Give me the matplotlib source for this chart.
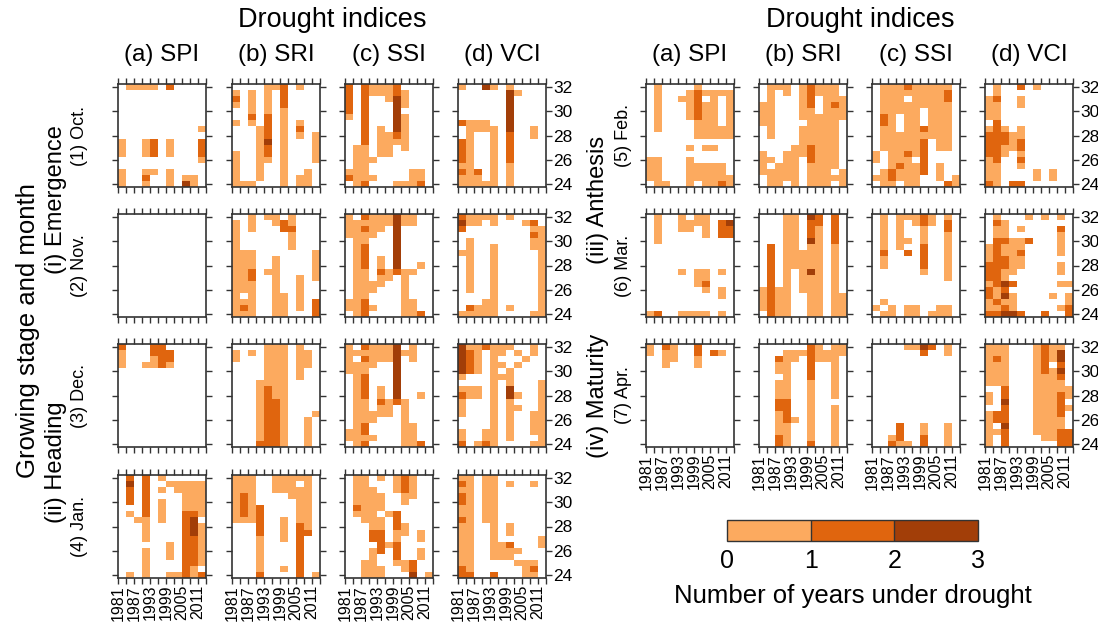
import numpy as np
import matplotlib as mpl
import matplotlib.pyplot as plt
from matplotlib.colors import ListedColormap, BoundaryNorm

plt.rcParams['font.family'] = ['Liberation Sans', 'DejaVu Sans']

# 3-year bins on x, 0.5 degree bins on y
year_edges = np.arange(1981, 2015, 3)
lat_edges = np.arange(23.75, 32.5, 0.5)
year_labels = [1981, 1987, 1993, 1999, 2005, 2011]
lat_ticks = [24, 26, 28, 30, 32]
index_names = ['(a) SPI', '(b) SRI', '(c) SSI', '(d) VCI']
cbar_ticks = [0, 1, 2, 3]

# grids: rows from 32N (top) to 24N (bottom), 0 = no drought
empty = ["00000000000"] * 17

spi_oct = ["01111020000", "00000000000", "00000000000", "00000000000", "00000000000",
           "00000000000", "00000000000", "00000000001", "00000000000", "10012010002",
           "10012010002", "10012010002", "00000000001", "00000000000", "10011010000",
           "10020010110", "10010010310"]
sri_oct = ["00001120100", "10101020000", "20101020000", "10101020000", "00101010000",
           "00202010000", "10102010100", "00012010200", "00012010101", "00013010001",
           "00012010001", "10012010001", "10011010001", "10010010000", "10010010010",
           "10010010110", "11100010110"]
ssi_oct = ["20211120000", "20211121000", "20200131000", "20200031000", "20200030000",
           "10200031000", "00200031000", "00201031000", "00201121000", "00201111000",
           "01101101000", "01101100000", "01110000000", "01100000000", "11100000110",
           "21110000110", "01200011120"]
vci_oct = ["10031010000", "00000031000", "00000030000", "00000030000", "00000030000",
           "00000030000", "21110030000", "01111030010", "01001020010", "21001020000",
           "21001020000", "21001020000", "21001020000", "11001010000", "21201010000",
           "11101010000", "11111010000"]

spi_nov = empty
sri_nov = ["00101101000", "10100121000", "10100022000", "10000001000", "10000001000",
           "10000001000", "11100000001", "11100100001", "11100100001", "11201100001",
           "11200100101", "11100100100", "11100100100", "10100110100", "11100110102",
           "12100110102", "11100110002"]
ssi_nov = ["10211131100", "11111131100", "11211030000", "11110030000", "01100030000",
           "01200030000", "01200030000", "01201030000", "01201030010", "01102121100",
           "01101101000", "01111001000", "01110001000", "01100001000", "11200001100",
           "11210001100", "01200001120"]
vci_nov = ["21111010000", "31101000120", "20000000011", "00000000021", "01000000011",
           "01001000011", "11001000001", "01001000001", "01001000001", "01001000001",
           "01001000001", "01001000001", "01001000001", "00001000001", "00011000001",
           "02111010001", "11111000011"]

spi_dec = ["20002200000", "10002220000", "10001220000", "10011210000"] + ["00000000000"] * 13
sri_dec = ["00001110100", "10101110110", "10001110110", "00001110110", "00001110100",
           "00001110100", "00011110000", "00012110000", "00012110000", "00012210000",
           "00012210000", "00012210001", "00012210010", "00012210010", "00012210010",
           "00012210010", "00022210010"]
ssi_dec = ["10211130100", "11111131100", "10211130100", "11110030000", "11100030000",
           "01200030000", "01200030000", "01201030000", "01201030010", "01102121000",
           "01101101000", "01111101000", "01110001000", "01200001100", "11200001100",
           "11110001100", "01200001120"]
vci_dec = ["31121110010", "32101101010", "32101000100", "32101101000", "32101010000",
           "10001110000", "00001010001", "11101030001", "21101031001", "10001010001",
           "10001011001", "10001010011", "00001010011", "00001010011", "10011010011",
           "10011010001", "20121000011"]

spi_jan = ["02020100000", "03020011111", "02020101111", "02020000111", "02020100111",
           "00020100111", "01020100221", "00110100230", "00010000231", "00010000231",
           "00010000221", "00000010221", "00010010221", "00010010221", "00010000221",
           "00010000210", "01010011212"]
sri_jan = ["11100111110", "11100111010", "11100111110", "12100001110", "12100000110",
           "12120000110", "12120000110", "11120010110", "00020010210", "00020010220",
           "00010010200", "00010000200", "00010000200", "00010000200", "00010000200",
           "00010010200", "00020000201"]
ssi_jan = ["01101012100", "01100012100", "01110012100", "01111001100", "01111001000",
           "02111000000", "01110120000", "00111020000", "00011021000", "00022011010",
           "00022010010", "00002120000", "00012020010", "00010020010", "00110011200",
           "00111001200", "00111000301"]
vci_jan = ["11011000000", "21011010010", "11011000000", "21011000000", "21011000000",
           "11011000000", "11011000000", "21011000000", "11001010000", "11001010000",
           "11001000001", "11001120001", "11001111000", "11001110000", "11000001110",
           "21000000120", "22002000110"]

spi_feb = ["01000010000", "01000121111", "01001120101", "01000121101", "01000121101",
           "01000121101", "01000011101", "01000011111", "00000011111", "00000000000",
           "00000101100", "00000000000", "11000100000", "11000111110", "11000111110",
           "11000111111", "01100101121"]
sri_feb = ["01110121110", "01010121110", "01000120111", "11000120121", "11000110111",
           "11000111111", "11000011110", "01000111110", "01000111110", "00000111110",
           "00001121110", "10011121110", "11011021110", "10111011110", "11111011101",
           "01111011111", "01101011101"]
ssi_feb = ["01112111110", "01111111120", "01110111120", "01111111110", "01111101110",
           "02101101110", "02101101110", "01101121110", "01111111110", "01111120110",
           "01111120110", "10112120000", "10111020000", "00121120100", "01211120100",
           "11211100101", "01101100021"]
vci_feb = ["01002010000", "01000000000", "12001000000", "11001000000", "11000000000",
           "11000000000", "02000000000", "12101000000", "22211000000", "22212000000",
           "22112000000", "22101000000", "12002000000", "11001000000", "11000010100",
           "11000010100", "21022000000"]

spi_mar = ["01001011000", "01001111023", "01001101022", "01000001022", "01000000000",
           "00000000000", "00000000000", "00000000000", "00000000000", "00001011010",
           "00000011000", "00000012000", "00000001010", "00000000010", "00000000000",
           "00000000000", "12001111010"]
sri_mar = ["00011032020", "00011022020", "00011021020", "00011021020", "00011031020",
           "02011011010", "02011111010", "02011111010", "02011111010", "02010131010",
           "02010111010", "02010111010", "12110111010", "12110011011", "12110011011",
           "12110011011", "02110011011"]
ssi_mar = ["01011121010", "01010121020", "01010010020", "01010010010", "01011010010",
           "01010020010", "02002020010", "01000020010", "01000020010", "00000010010",
           "00000000010", "00000000000", "00000000000", "00000000000", "01000000000",
           "10101100110", "01101101110"]
vci_mar = ["01000101010", "02100000000", "01101000020", "01100000010", "02211200010",
           "12111000010", "12112000010", "12211000000", "22211000010", "22110000010",
           "22100000000", "12320000011", "21200000000", "21310000101", "12110000001",
           "11210000012", "22332002002"]

spi_apr = ["10210020000", "10110020210", "00110010000", "00100010000"] + ["00000000000"] * 13
sri_apr = ["00000021011", "00011121111", "00211021110", "00110020010", "00110020010",
           "00010020010", "00110010010", "00110010010", "00110010010", "00220010000",
           "00220010010", "00120010010", "00121010010", "00110010010", "00110010010",
           "00210010010", "00210020010"]
ssi_apr = ["00001132010", "00000020010"] + ["00000000000"] * 11 + \
          ["00020010010", "00020010010", "00120020010", "00211020010"]
vci_apr = ["11100012110", "11100012130", "12100012130", "11100012020", "11100012130",
           "11100011120", "11100011110", "00200011111", "10200011121", "10300011120",
           "00200011121", "12200011120", "12200011110", "10300011110", "11200011122",
           "10200001122", "10200000022"]

left_rows = [[spi_oct, sri_oct, ssi_oct, vci_oct],
             [spi_nov, sri_nov, ssi_nov, vci_nov],
             [spi_dec, sri_dec, ssi_dec, vci_dec],
             [spi_jan, sri_jan, ssi_jan, vci_jan]]
right_rows = [[spi_feb, sri_feb, ssi_feb, vci_feb],
              [spi_mar, sri_mar, ssi_mar, vci_mar],
              [spi_apr, sri_apr, ssi_apr, vci_apr]]

light, medium, dark = '#FCAA5F', '#E0650E', '#A23E08'
cmap = ListedColormap(['white', light, medium, dark])
norm = BoundaryNorm([-0.5, 0.5, 1.5, 2.5, 3.5], 4)

W, H = 1098, 629
fig = plt.figure(figsize=(W / 100, H / 100), dpi=100)


def px_axes(x, y, w, h):
    return fig.add_axes([x / W, 1 - (y + h) / H, w / W, h / H])


def draw_panel(ax, rows, show_years, show_lats):
    grid = np.flipud(np.array([[int(c) for c in r] for r in rows]))
    ax.pcolormesh(year_edges, lat_edges, grid, cmap=cmap, norm=norm)
    ax.set_xlim(1981, 2014)
    ax.set_ylim(23.75, 32.25)
    ax.set_xticks(year_edges)
    ax.set_xticklabels([str(y) if y in year_labels else '' for y in year_edges],
                       rotation=90)
    ax.set_yticks(lat_ticks)
    ax.tick_params(direction='out', length=4, width=1, color='#333333',
                   top=True, right=True, labelleft=False,
                   labelbottom=show_years, labelright=show_lats, pad=1)
    ax.tick_params(axis='x', labelsize=11.5)
    ax.tick_params(axis='y', labelsize=12.5)
    for s in ax.spines.values():
        s.set_color('#333333')
        s.set_linewidth(1.2)


left_x = [118, 232, 345, 458]
right_x = [646, 759, 872, 985]
row_y = [84, 214, 344, 475]
pw, ph = 88, 103

for i, panels in enumerate(left_rows):
    for j, rows in enumerate(panels):
        ax = px_axes(left_x[j], row_y[i], pw, ph)
        draw_panel(ax, rows, i == 3, j == 3)

for i, panels in enumerate(right_rows):
    for j, rows in enumerate(panels):
        ax = px_axes(right_x[j], row_y[i], pw, ph)
        draw_panel(ax, rows, i == 2, j == 3)


def ftext(x, y, s, **kw):
    fig.text(x / W, 1 - y / H, s, ha='center', va='center', **kw)


# column headers
ftext(332, 20, 'Drought indices', fontsize=19.5)
ftext(860, 20, 'Drought indices', fontsize=19.5)
for j, name in enumerate(index_names):
    ftext(left_x[j] + pw / 2, 55, name, fontsize=17.5)
    ftext(right_x[j] + pw / 2, 55, name, fontsize=17.5)

# row labels
ftext(28, 331, 'Growing stage and month', fontsize=18.5, rotation=90)
ftext(56, 200, '(i) Emergence', fontsize=17, rotation=90)
ftext(56, 462, '(ii) Heading', fontsize=17, rotation=90)
ftext(598, 200, '(iii) Anthesis', fontsize=17, rotation=90)
ftext(598, 396, '(iv) Maturity', fontsize=17, rotation=90)
for lab, y in zip(['(1) Oct.', '(2) Nov.', '(3) Dec.', '(4) Jan.'], row_y):
    ftext(79, y + ph / 2, lab, fontsize=13, rotation=90)
for lab, y in zip(['(5) Feb.', '(6) Mar.', '(7) Apr.'], row_y):
    ftext(623, y + ph / 2, lab, fontsize=13, rotation=90)

# colour bar
cax = px_axes(727, 520, 251, 21)
sm = mpl.cm.ScalarMappable(norm=BoundaryNorm(cbar_ticks, 3),
                           cmap=ListedColormap([light, medium, dark]))
cb = fig.colorbar(sm, cax=cax, orientation='horizontal', ticks=cbar_ticks,
                  drawedges=True)
cb.outline.set_edgecolor('#333333')
cb.outline.set_linewidth(1)
cb.dividers.set_color('#333333')
cb.dividers.set_linewidth(1)
cax.tick_params(length=0, labelsize=18, pad=6)
cb.set_label('Number of years under drought', fontsize=18.5, labelpad=8)

fig.savefig('out.png', dpi=100)
